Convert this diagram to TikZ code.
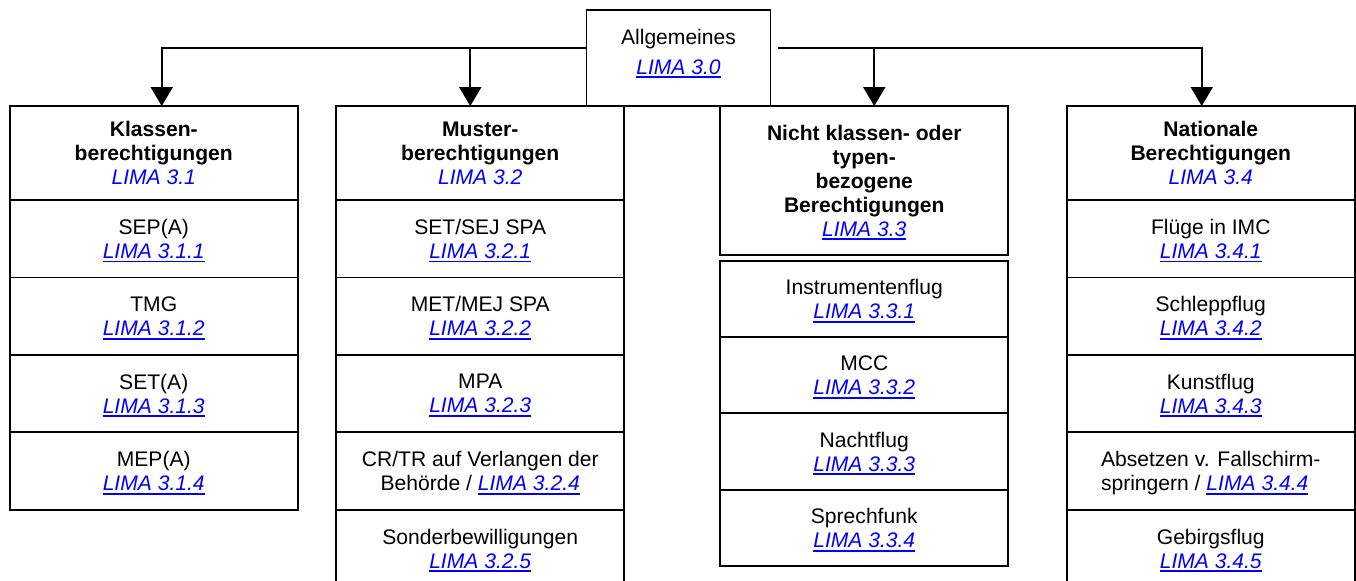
\documentclass[tikz,border=0pt]{standalone}
\usepackage{fontspec}
\setmainfont{Liberation Sans}
\usetikzlibrary{positioning,calc,arrows.meta}
\definecolor{linkblue}{RGB}{0,0,255}
% underlined link text and plain link text
\newcommand{\lnk}[1]{{\color{linkblue}\itshape\setbox0\hbox{#1}\rlap{\rule[-2.3pt]{\wd0}{1.1pt}}\box0}}
\newcommand{\lnkplain}[1]{{\color{linkblue}\itshape #1}}

\begin{document}
\begin{tikzpicture}[x=0.02cm,y=-0.02cm,
    frame/.style={draw, line width=1.1pt, inner sep=0pt, outer sep=0pt, align=center,
                  font=\fontsize{12}{13.7}\selectfont},
    box/.style={frame, minimum width=5.76cm, minimum height=1.55cm, text depth=-4.6pt},
    head/.style={box, minimum height=1.88cm},
    conn/.style={line width=1.1pt, -{Triangle[width=0.44cm,length=0.38cm]}}]
  \clip (0,0) rectangle (1356,581);

  \node[frame, minimum width=3.68cm, minimum height=1.92cm] (allg) at (678.5,58)
    {Allgemeines\\[0.1cm]\lnk{LIMA 3.0}\rule[-7pt]{0pt}{0pt}};

  % Klassenberechtigungen
  \node[head] (klassen) at (153.75,153) {\textbf{Klassen-}\\\textbf{berechtigungen}\\\lnkplain{LIMA 3.1}};
  \node[box, below=0pt of klassen] (sep) {SEP(A)\\\lnk{LIMA 3.1.1}};
  \node[box, below=0pt of sep] (tmg) {TMG\\\lnk{LIMA 3.1.2}};
  \node[box, below=0pt of tmg] (set) {SET(A)\\\lnk{LIMA 3.1.3}};
  \node[box, below=0pt of set] (mep) {MEP(A)\\\lnk{LIMA 3.1.4}};

  % Musterberechtigungen
  \node[head] (muster) at (480.25,153) {\textbf{Muster-}\\\textbf{berechtigungen}\\\lnkplain{LIMA 3.2}};
  \node[box, below=0pt of muster] (setsej) {SET/SEJ SPA\\\lnk{LIMA 3.2.1}};
  \node[box, below=0pt of setsej] (metmej) {MET/MEJ SPA\\\lnk{LIMA 3.2.2}};
  \node[box, below=0pt of metmej] (mpa) {MPA\\\lnk{LIMA 3.2.3}};
  \node[box, below=0pt of mpa] (crtr) {CR/TR auf Verlangen der\\Behörde / \lnk{LIMA 3.2.4}};
  \node[box, below=0pt of crtr] (sonder) {Sonderbewilligungen\\\lnk{LIMA 3.2.5}};

  % nicht klassen- oder typenbezogen
  \node[box, minimum height=2.98cm] (nicht) at (864.25,180.5) {\textbf{Nicht klassen- oder}\\\textbf{typen-}\\\textbf{bezogene}\\\textbf{Berechtigungen}\\\lnk{LIMA 3.3}};
  \node[box, minimum height=1.525cm, below=0.12cm of nicht] (instr) {Instrumentenflug\\\lnk{LIMA 3.3.1}};
  \node[box, minimum height=1.525cm, below=0pt of instr] (mcc) {MCC\\\lnk{LIMA 3.3.2}};
  \node[box, minimum height=1.525cm, below=0pt of mcc] (nacht) {Nachtflug\\\lnk{LIMA 3.3.3}};
  \node[box, minimum height=1.525cm, below=0pt of nacht] (funk) {Sprechfunk\\\lnk{LIMA 3.3.4}};

  % Nationale Berechtigungen
  \node[head] (national) at (1210.75,153) {\textbf{Nationale}\\\textbf{Berechtigungen}\\\lnkplain{LIMA 3.4}};
  \node[box, below=0pt of national] (imc) {Flüge in IMC\\\lnk{LIMA 3.4.1}};
  \node[box, below=0pt of imc] (schlepp) {Schleppflug\\\lnk{LIMA 3.4.2}};
  \node[box, below=0pt of schlepp] (kunst) {Kunstflug\\\lnk{LIMA 3.4.3}};
  \node[box, align=left, below=0pt of kunst] (fallschirm) {Absetzen v. Fallschirm-\\springern / \lnk{LIMA 3.4.4}};
  \node[box, below=0pt of fallschirm] (gebirge) {Gebirgsflug\\\lnk{LIMA 3.4.5}};

  % Verbindungen
  \coordinate (jl) at ($(allg.west)+(0,-10)$);
  \coordinate (jr) at ($(allg.east)+(8,-10)$);
  \coordinate (ak) at ($(klassen.north)+(8,0)$);
  \coordinate (am) at ($(muster.north)+(-10,0)$);
  \coordinate (an) at ($(nicht.north)+(10,0)$);
  \coordinate (ana) at ($(national.north)+(-9,0)$);
  \draw[conn] (jl) -| (ak);
  \draw[conn] (jl -| am) -- (am);
  \draw[conn] (jr) -| (ana);
  \draw[conn] (jr -| an) -- (an);
\end{tikzpicture}
\end{document}
